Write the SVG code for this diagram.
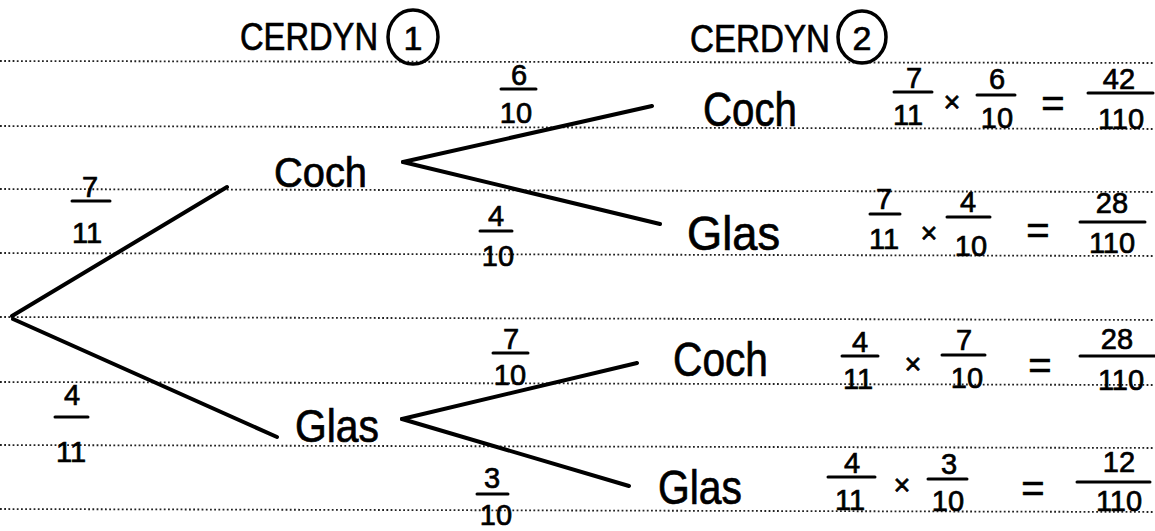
<svg xmlns="http://www.w3.org/2000/svg" width="1155" height="531" viewBox="0 0 1155 531">
<style>
.rule{stroke:#222;stroke-width:1.8;stroke-dasharray:1.8 2.4;fill:none}
.branch{stroke:#000;stroke-width:4;stroke-linecap:round;fill:none}
.bar{stroke:#000;stroke-width:3;stroke-linecap:round}
.hw{font-family:"Liberation Sans",Arial,sans-serif;fill:#000;stroke:#000;stroke-width:0.7}
.lbl{font-size:48px}
.hd{font-size:39px}
.n{font-size:29px;text-anchor:middle}
.eq{font-size:40px;text-anchor:middle}
.ring{fill:none;stroke:#000;stroke-width:3.5}
</style>
<rect width="1155" height="531" fill="#fff"/>
<g id="ruling">
<line class="rule" x1="0" y1="61" x2="1155" y2="63"/>
<line class="rule" x1="0" y1="126" x2="1155" y2="129"/>
<line class="rule" x1="0" y1="189" x2="1155" y2="192"/>
<line class="rule" x1="0" y1="253" x2="1155" y2="256"/>
<line class="rule" x1="0" y1="317" x2="1155" y2="320"/>
<line class="rule" x1="0" y1="382" x2="1155" y2="385"/>
<line class="rule" x1="0" y1="445" x2="1155" y2="448"/>
<line class="rule" x1="0" y1="509" x2="1155" y2="512"/>
</g>
<g id="header-cerdyn1">
<text class="hw hd" x="240" y="50" textLength="138" lengthAdjust="spacingAndGlyphs">CERDYN</text>
<ellipse class="ring" cx="413" cy="37" rx="25" ry="27"/>
<text class="hw" x="413" y="50" font-size="34" text-anchor="middle">1</text>
</g>
<g id="header-cerdyn2">
<text class="hw hd" x="690" y="52" textLength="140" lengthAdjust="spacingAndGlyphs">CERDYN</text>
<ellipse class="ring" cx="862" cy="37" rx="24" ry="26"/>
<text class="hw" x="862" y="50" font-size="34" text-anchor="middle">2</text>
</g>
<g id="connectors">
<line class="branch" x1="12" y1="316" x2="227" y2="187"/>
<line class="branch" x1="13" y1="319" x2="277" y2="437"/>
<line class="branch" x1="403" y1="162" x2="652" y2="106"/>
<line class="branch" x1="403" y1="162" x2="660" y2="224"/>
<line class="branch" x1="402" y1="419" x2="637" y2="363"/>
<line class="branch" x1="402" y1="419" x2="629" y2="486"/>
</g>
<g id="edge-labels">
<g id="p-root-coch">
<text class="hw n" x="90" y="197" font-size="32">7</text>
<line class="bar" x1="72" y1="201" x2="110" y2="201"/>
<text class="hw n" x="87" y="243" font-size="32">11</text>
</g>
<g id="p-root-glas">
<text class="hw n" x="72" y="405" font-size="34">4</text>
<line class="bar" x1="55" y1="417" x2="88" y2="417"/>
<text class="hw n" x="71" y="462" font-size="34">11</text>
</g>
<g id="p-coch-coch">
<text class="hw n" x="519" y="85">6</text>
<line class="bar" x1="501" y1="89" x2="536" y2="89"/>
<text class="hw n" x="516" y="123" font-size="31">10</text>
</g>
<g id="p-coch-glas">
<text class="hw n" x="496" y="226" font-size="32">4</text>
<line class="bar" x1="480" y1="231" x2="512" y2="231"/>
<text class="hw n" x="498" y="266" font-size="31">10</text>
</g>
<g id="p-glas-coch">
<text class="hw n" x="511" y="349" font-size="30">7</text>
<line class="bar" x1="493" y1="353" x2="528" y2="353"/>
<text class="hw n" x="510" y="385" font-size="31">10</text>
</g>
<g id="p-glas-glas">
<text class="hw n" x="492" y="488" font-size="30">3</text>
<line class="bar" x1="477" y1="494" x2="508" y2="494"/>
<text class="hw n" x="496" y="525" font-size="29">10</text>
</g>
</g>
<g id="node-coch1">
<text class="hw" x="274" y="187" font-size="42" textLength="93" lengthAdjust="spacingAndGlyphs">Coch</text>
</g>
<g id="node-glas1">
<text class="hw" x="295" y="442" font-size="46" textLength="84" lengthAdjust="spacingAndGlyphs">Glas</text>
</g>
<g id="node-coch-coch">
<text class="hw lbl" x="703" y="126" textLength="94" lengthAdjust="spacingAndGlyphs">Coch</text>
<text class="hw n" x="914" y="88">7</text>
<line class="bar" x1="894" y1="92" x2="932" y2="92"/>
<text class="hw n" x="908" y="125">11</text>
<text class="hw n" x="952" y="112">×</text>
<text class="hw n" x="997" y="89">6</text>
<line class="bar" x1="977" y1="95" x2="1015" y2="95"/>
<text class="hw n" x="997" y="128">10</text>
<text class="hw eq" x="1053" y="117">=</text>
<text class="hw n" x="1119" y="89">42</text>
<line class="bar" x1="1088" y1="93" x2="1153" y2="93"/>
<text class="hw n" x="1121" y="129">110</text>
</g>
<g id="node-coch-glas">
<text class="hw lbl" x="687" y="250" textLength="93" lengthAdjust="spacingAndGlyphs">Glas</text>
<text class="hw n" x="884" y="209">7</text>
<line class="bar" x1="870" y1="214" x2="900" y2="214"/>
<text class="hw n" x="884" y="249">11</text>
<text class="hw n" x="929" y="243">×</text>
<text class="hw n" x="968" y="212">4</text>
<line class="bar" x1="947" y1="217" x2="990" y2="217"/>
<text class="hw n" x="971" y="256">10</text>
<text class="hw eq" x="1038" y="244">=</text>
<text class="hw n" x="1112" y="213">28</text>
<line class="bar" x1="1080" y1="222" x2="1145" y2="222"/>
<text class="hw n" x="1112" y="253">110</text>
</g>
<g id="node-glas-coch">
<text class="hw lbl" x="673" y="376" textLength="95" lengthAdjust="spacingAndGlyphs">Coch</text>
<text class="hw n" x="860" y="352">4</text>
<line class="bar" x1="842" y1="356" x2="878" y2="356"/>
<text class="hw n" x="858" y="389">11</text>
<text class="hw n" x="913" y="374">×</text>
<text class="hw n" x="964" y="350">7</text>
<line class="bar" x1="942" y1="355" x2="985" y2="355"/>
<text class="hw n" x="967" y="388">10</text>
<text class="hw eq" x="1040" y="379">=</text>
<text class="hw n" x="1117" y="349">28</text>
<line class="bar" x1="1080" y1="356" x2="1155" y2="356"/>
<text class="hw n" x="1121" y="390">110</text>
</g>
<g id="node-glas-glas">
<text class="hw lbl" x="658" y="504" textLength="84" lengthAdjust="spacingAndGlyphs">Glas</text>
<text class="hw n" x="852" y="473">4</text>
<line class="bar" x1="828" y1="477" x2="875" y2="477"/>
<text class="hw n" x="850" y="510">11</text>
<text class="hw n" x="902" y="495">×</text>
<text class="hw n" x="949" y="474">3</text>
<line class="bar" x1="928" y1="479" x2="967" y2="479"/>
<text class="hw n" x="948" y="511">10</text>
<text class="hw eq" x="1033" y="502">=</text>
<text class="hw n" x="1119" y="472">12</text>
<line class="bar" x1="1077" y1="482" x2="1150" y2="482"/>
<text class="hw n" x="1119" y="511">110</text>
</g>
</svg>
